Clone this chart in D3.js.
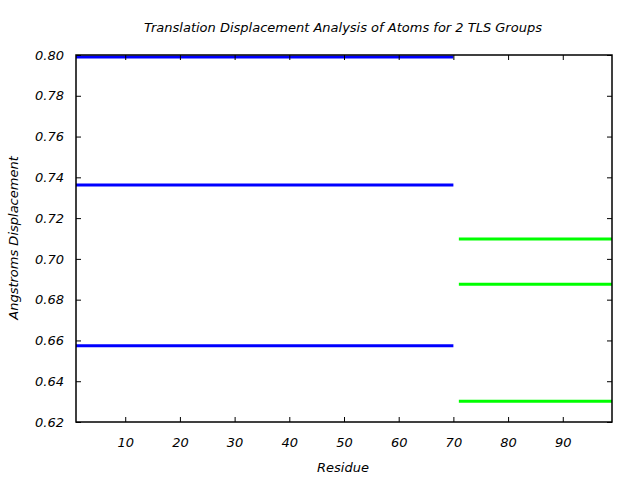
<!DOCTYPE html>
<html><head><meta charset="utf-8">
<script src="https://cdn.jsdelivr.net/npm/d3@7"></script>
<style>body{margin:0;background:#fff}svg{display:block}text{font-family:"DejaVu Sans",sans-serif;font-style:italic}</style>
</head><body>
<script>
const groupNames = ["Group 1", "Group 2"];
const groupRanges = [[1, 70], [71, 99]];
const groupColors = ["#0000ff", "#00ff00"];
const group1Values = [0.799, 0.7363, 0.6574];
const group2Values = [0.7097, 0.6876, 0.6302];
const xTicks = [10, 20, 30, 40, 50, 60, 70, 80, 90];
const yTicks = [0.62, 0.64, 0.66, 0.68, 0.70, 0.72, 0.74, 0.76, 0.78, 0.80];

const W = 640, H = 480;
const m = {left: 76, right: 28, top: 55, bottom: 58};
const svg = d3.select("body").append("svg").attr("width", W).attr("height", H);
const x = d3.scaleLinear().domain([1, 99]).range([m.left, W - m.right]);
const y = d3.scaleLinear().domain([0.62, 0.80]).range([H - m.bottom, m.top]);

const segs = [];
[group1Values, group2Values].forEach((vals, g) => vals.forEach(v => segs.push({g, v})));
svg.append("g").selectAll("line").data(segs).join("line")
  .attr("x1", d => x(groupRanges[d.g][0])).attr("x2", d => x(groupRanges[d.g][1]))
  .attr("y1", d => y(d.v)).attr("y2", d => y(d.v))
  .attr("stroke", d => groupColors[d.g]).attr("stroke-width", 3);

const fmt = d3.format(".2f");
const ax = (g) => { g.select(".domain").remove(); g.selectAll("line").attr("stroke", "#000"); };
svg.append("g").attr("transform", `translate(0,${H - m.bottom})`)
  .call(d3.axisBottom(x).tickValues(xTicks).tickSizeInner(-5).tickSizeOuter(0).tickPadding(16))
  .call(ax).selectAll("text").attr("font-size", 13).attr("fill", "#000");
svg.append("g").attr("transform", `translate(0,${m.top})`)
  .call(d3.axisTop(x).tickValues(xTicks).tickSizeInner(-5).tickSizeOuter(0).tickFormat(""))
  .call(ax);
svg.append("g").attr("transform", `translate(${m.left},0)`)
  .call(d3.axisLeft(y).tickValues(yTicks).tickFormat(fmt).tickSizeInner(-5).tickSizeOuter(0).tickPadding(12))
  .call(ax).selectAll("text").attr("font-size", 13).attr("fill", "#000");
svg.append("g").attr("transform", `translate(${W - m.right},0)`)
  .call(d3.axisRight(y).tickValues(yTicks).tickSizeInner(-5).tickSizeOuter(0).tickFormat(""))
  .call(ax);

svg.append("rect").attr("x", m.left).attr("y", m.top)
  .attr("width", W - m.left - m.right).attr("height", H - m.top - m.bottom)
  .attr("fill", "none").attr("stroke", "#000").attr("stroke-width", 1.5);

svg.append("text").attr("x", 343).attr("y", 32).attr("text-anchor", "middle")
  .attr("font-size", 13).text("Translation Displacement Analysis of Atoms for 2 TLS Groups");
svg.append("text").attr("x", 343).attr("y", 472).attr("text-anchor", "middle")
  .attr("font-size", 13).text("Residue");
svg.append("text").attr("transform", "translate(18,238) rotate(-90)").attr("text-anchor", "middle")
  .attr("font-size", 13).text("Angstroms Displacement");
</script>
</body></html>
